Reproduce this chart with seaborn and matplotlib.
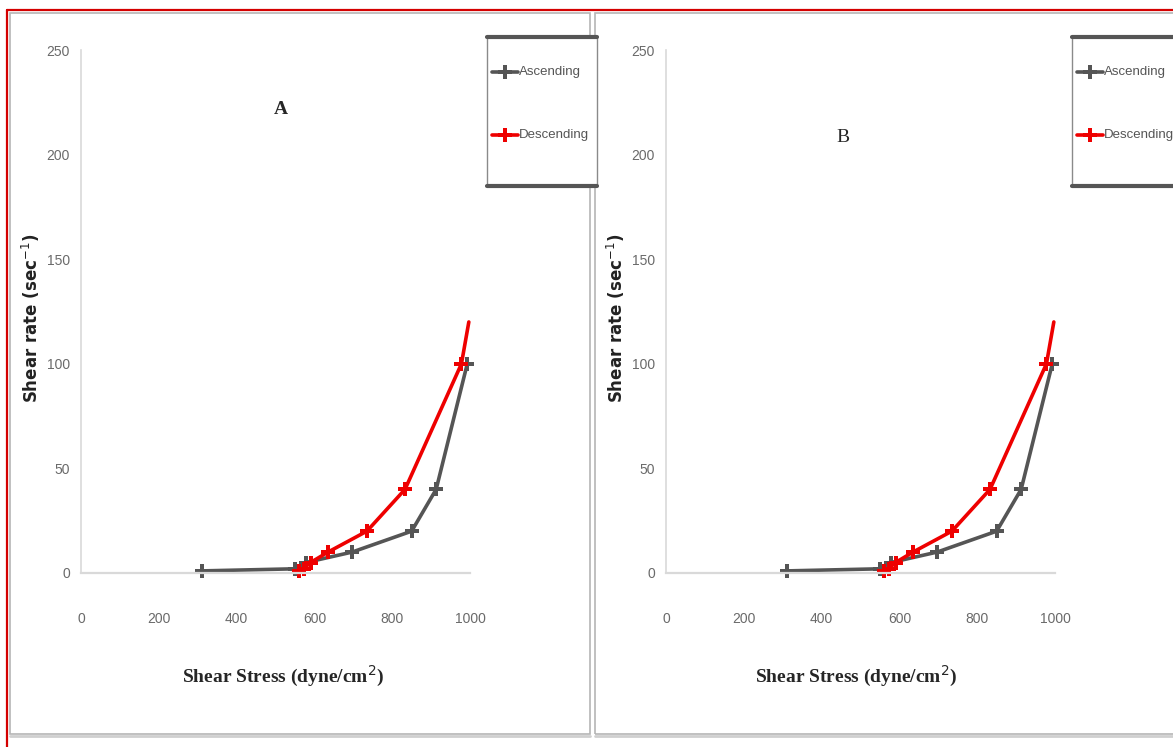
import matplotlib
matplotlib.use("Agg")
import matplotlib.pyplot as plt
import seaborn as sns
import pandas as pd
from matplotlib.patches import Rectangle

# Rheogram data: shear stress (dyne/cm2) vs shear rate (sec^-1)
asc_stress = [310, 550, 578, 697, 850, 913, 993]
asc_rate = [1, 2, 5, 10, 20, 40, 100]
desc_stress = [560, 572, 590, 635, 735, 833, 978, 997]
desc_rate = [1, 2, 5, 10, 20, 40, 100, 120]
desc_marked = 7  # the last descending point is the curve's end, unmarked

panel_labels = ["A", "B"]
x_ticks = [0, 200, 400, 600, 800, 1000]
y_ticks = [0, 50, 100, 150, 200, 250]

sns.set_theme(style="white")
plt.rcParams["font.family"] = ["DejaVu Sans"]

W, H = 1173, 747
fig = plt.figure(figsize=(W / 100, H / 100), dpi=100)
fig.patch.set_facecolor("white")


def fx(px):
    return px / W


def fy(py):
    return 1 - py / H


# outer red border (top and left visible)
fig.add_artist(plt.Line2D([fx(7), fx(7)], [fy(10), fy(747)], color="#d40000", lw=1.6))
fig.add_artist(plt.Line2D([fx(7), fx(1173)], [fy(10), fy(10)], color="#d40000", lw=1.6))

# panel frames
for left, right in [(10, 590), (595, 1190)]:
    fig.add_artist(Rectangle((fx(left), fy(734)), fx(right - left), fy(13) - fy(734),
                             fill=False, ec="#b5b5b5", lw=1.2))
    fig.add_artist(plt.Line2D([fx(left), fx(right)], [fy(736), fy(736)],
                              color="#cfcfcf", lw=2.0))

asc_df = pd.DataFrame({"stress": asc_stress, "rate": asc_rate})
desc_df = pd.DataFrame({"stress": desc_stress, "rate": desc_rate})

serif = ["Liberation Serif", "DejaVu Serif"]
sans = ["Liberation Sans", "DejaVu Sans"]

configs = [
    dict(ax_left=81, label_xy=(281, 110), label_weight="bold", xlab_x=283, leg_left=487),
    dict(ax_left=666, label_xy=(843, 137), label_weight="normal", xlab_x=856, leg_left=1072),
]

for cfg, plabel in zip(configs, panel_labels):
    ax = fig.add_axes([fx(cfg["ax_left"]), fy(573), fx(389), fy(50) - fy(573)])
    sns.lineplot(data=asc_df, x="stress", y="rate", ax=ax, color="#555555", lw=2.6,
                 marker="P", markersize=10, markeredgewidth=0, sort=False, label="Ascending")
    sns.lineplot(data=desc_df, x="stress", y="rate", ax=ax, color="#ee0000", lw=2.6,
                 sort=False, label="Descending")
    ax.plot(desc_df["stress"][:desc_marked], desc_df["rate"][:desc_marked], ls="none",
            marker="P", markersize=10, color="#ee0000", markeredgewidth=0)
    ax.set_xlim(0, 1000)
    ax.set_ylim(0, 250)
    ax.set_xticks(x_ticks)
    ax.set_yticks(y_ticks)
    ax.set_xlabel("")
    ax.set_ylabel("")
    for s in ["top", "right"]:
        ax.spines[s].set_visible(False)
    ax.spines["left"].set_color("#d9d9d9")
    ax.spines["bottom"].set_color("#d9d9d9")
    ax.spines["left"].set_linewidth(1.2)
    ax.spines["bottom"].set_linewidth(1.6)
    ax.set_facecolor("none")
    ax.tick_params(axis="x", direction="out", length=6, width=1, color="#d9d9d9",
                   pad=22, labelsize=10, labelcolor="#6a6a6a")
    ax.tick_params(axis="y", direction="out", length=3, width=1, color="#d9d9d9",
                   pad=5, labelsize=10, labelcolor="#6a6a6a")
    for t in ax.get_xticklabels() + ax.get_yticklabels():
        t.set_family(sans)
    ax.get_legend().remove()
    for ln in ax.lines:
        ln.set_clip_on(False)

    # panel letter
    fig.text(fx(cfg["label_xy"][0]), fy(cfg["label_xy"][1]), plabel, ha="center", va="center",
             fontsize=14, fontweight=cfg["label_weight"], family=serif)
    # axis titles
    fig.text(fx(cfg["xlab_x"]), fy(676), "Shear Stress (dyne/cm$^{2}$)", ha="center",
             va="center", fontsize=14, fontweight="bold", family=serif)
    fig.text(fx(cfg["ax_left"] - 50), fy(318), "Shear rate (sec$^{-1}$)", ha="center",
             va="center", rotation=90, fontsize=12, fontweight="bold", color="#222222")

    # legend box
    ll = cfg["leg_left"]
    fig.add_artist(Rectangle((fx(ll), fy(185)), fx(110), fy(37) - fy(185),
                             facecolor="white", ec="#8a8a8a", lw=1.0, zorder=5))
    fig.add_artist(plt.Line2D([fx(ll), fx(ll + 110)], [fy(37), fy(37)], color="#555555",
                              lw=3, zorder=6))
    fig.add_artist(plt.Line2D([fx(ll), fx(ll + 110)], [fy(186), fy(186)], color="#555555",
                              lw=3, zorder=6))
    for yy, name, col in [(72, "Ascending", "#555555"), (135, "Descending", "#ee0000")]:
        fig.add_artist(plt.Line2D([fx(ll + 5), fx(ll + 18), fx(ll + 31)],
                                  [fy(yy), fy(yy), fy(yy)], color=col,
                                  lw=2.6, marker="P", markevery=[1], markersize=10,
                                  markeredgewidth=0, zorder=6))
        fig.text(fx(ll + 32), fy(yy), name, ha="left", va="center", fontsize=9.5,
                 color="#555555", family=sans, zorder=7)

fig.savefig("out.png", dpi=100)
